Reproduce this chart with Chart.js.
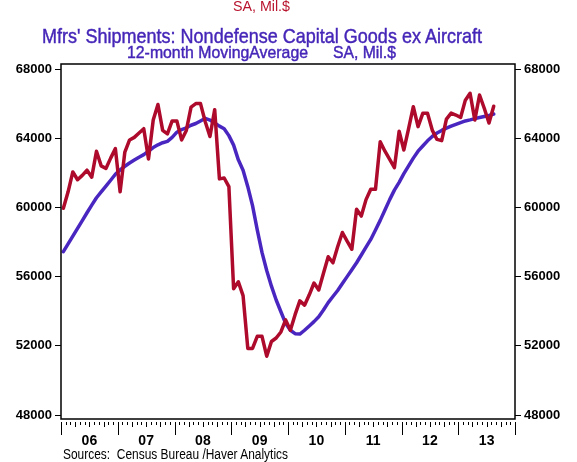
<!DOCTYPE html>
<html>
<head>
<meta charset="utf-8">
<script src="https://cdn.jsdelivr.net/npm/chart.js@4.4.0/dist/chart.umd.min.js"></script>
<style>
  html, body { margin: 0; padding: 0; background: #fff; }
  #wrap { position: relative; width: 577px; height: 462px; overflow: hidden; }
  #grafica { position: absolute; left: 0; top: 0; }
  .txt { position: absolute; white-space: pre; font-family: "Liberation Sans", Arial, sans-serif; line-height: 1; transform-origin: 0 0; }
  .gordo { -webkit-text-stroke: 0.45px currentColor; }
</style>
</head>
<body>
<div id="wrap">
  <canvas id="grafica" width="577" height="462"></canvas>
  <div class="txt" data-x="233" data-w="57" style="top:-2px;font-size:15px;color:#b8142e">SA, Mil.$</div>
  <div class="txt gordo" data-x="42" data-w="440" style="top:25px;font-size:21px;color:#4526b8">Mfrs' Shipments: Nondefense Capital Goods ex Aircraft</div>
  <div class="txt gordo" data-x="127" data-w="181" style="top:44px;font-size:17px;color:#4526b8">12-month MovingAverage</div>
  <div class="txt gordo" data-x="333" data-w="63" style="top:44px;font-size:17px;color:#4526b8">SA, Mil.$</div>
  <div class="txt" data-x="63" data-w="225" style="top:447px;font-size:14px;color:#000">Sources:  Census Bureau /Haver Analytics</div>
</div>
<script>
// Serie mensual desde enero 2006 (Mil.$)
const anioInicio = 2006;
const envios = [
  59950, 60900, 62050, 61600, 61850, 62150, 61750, 63250, 62400, 62250, 62850, 63400,
  60900, 63200, 63900, 64050, 64300, 64550, 62800, 65050, 65950, 64450, 64250, 65000,
  65000, 63900, 64450, 65800, 66000, 66000, 64950, 64100, 65650, 61650, 61700, 61200,
  55300, 55700, 54900, 51850, 51850, 52550, 52550, 51400, 52250, 52450, 52800, 53500,
  52900, 53800, 54600, 54350, 54950, 55630, 55230, 56200, 57150, 56800, 57730, 58550,
  58050, 57580, 59900, 59500, 60450, 61050, 61050, 63800, 63250, 62780, 62300, 64400,
  63320, 64550, 65820, 64670, 65440, 65440, 64470, 63930, 63860, 65100, 65450, 65340,
  65200, 66200, 66600, 65050, 66500, 65730, 64880, 65850
];
// Promedio movil 12 meses
const promedioMovil = [
  57440, 57890, 58340, 58790, 59240, 59690, 60130, 60560, 60900, 61230, 61570, 61920,
  62170, 62380, 62570, 62740, 62900, 63050, 63250, 63460, 63620, 63740, 63820, 64050,
  64350, 64500, 64600, 64750, 64850, 65000, 65150, 65050, 64880, 64700, 64550, 64150,
  63600, 62750, 62150, 61200, 60100, 58700, 57400, 56350, 55450, 54650, 53970, 53300,
  52900, 52700, 52680, 52900, 53150, 53400, 53680, 54070, 54500, 54850, 55200, 55600,
  56000, 56400, 56800, 57250, 57700, 58150, 58700, 59250, 59850, 60450, 61000, 61450,
  61950, 62400, 62850, 63250, 63550, 63850, 64100, 64300, 64450, 64580, 64700, 64800,
  64900, 65000, 65060, 65130, 65200, 65260, 65320, 65400
];
const etiquetasAnio = ['06', '07', '08', '09', '10', '11', '12', '13'];
const ticksY = [48000, 52000, 56000, 60000, 64000, 68000];

const rojo = '#ad0a2c';
const azul = '#4a26c0';

const puntos = serie => serie.map((v, i) => ({ x: anioInicio + (i + 0.5) / 12, y: v }));

// marco y marcas mensuales del eje x
const marcoPlugin = {
  id: 'marco',
  afterDraw(chart) {
    const { ctx, chartArea: a, scales } = chart;
    ctx.save();
    ctx.strokeStyle = '#000';
    ctx.lineWidth = 1.5;
    ctx.strokeRect(a.left, a.top, a.right - a.left, a.bottom - a.top);
    ctx.lineWidth = 1;
    const total = etiquetasAnio.length * 12;
    for (let m = 0; m <= total; m++) {
      const x = Math.round(scales.x.getPixelForValue(anioInicio + m / 12)) + 0.5;
      const largo = m % 12 === 0 ? 13 : (m % 3 === 0 ? 5 : 3);
      ctx.beginPath();
      ctx.moveTo(x, a.bottom + 3);
      ctx.lineTo(x, a.bottom + 3 + largo);
      ctx.stroke();
    }
    ctx.restore();
  }
};

const ejeY = (pos, ancho) => ({
  type: 'linear',
  position: pos,
  min: 47770,
  max: 68290,
  afterBuildTicks: s => { s.ticks = ticksY.map(v => ({ value: v })); },
  afterFit: s => { s.width = ancho; },
  grid: { drawOnChartArea: false, drawTicks: true, tickLength: 6, color: '#000', lineWidth: 1 },
  border: { display: false },
  ticks: {
    color: '#000',
    padding: 3,
    font: { family: 'Liberation Sans', size: 13, weight: 'bold' },
    callback: v => String(v)
  }
});

new Chart(document.getElementById('grafica').getContext('2d'), {
  type: 'line',
  data: {
    datasets: [
      {
        label: 'Envios',
        data: puntos(envios),
        borderColor: rojo,
        borderWidth: 3.5,
        pointRadius: 0,
        borderJoinStyle: 'round',
        borderCapStyle: 'round',
        yAxisID: 'y'
      },
      {
        label: 'Promedio movil 12m',
        data: puntos(promedioMovil),
        borderColor: azul,
        borderWidth: 3.5,
        pointRadius: 0,
        borderJoinStyle: 'round',
        borderCapStyle: 'round',
        yAxisID: 'y'
      }
    ]
  },
  options: {
    responsive: false,
    animation: false,
    devicePixelRatio: 1,
    layout: { padding: { top: 64, left: 0, right: 0, bottom: 0 } },
    plugins: { legend: { display: false }, tooltip: { enabled: false } },
    scales: {
      x: {
        type: 'linear',
        min: anioInicio,
        max: anioInicio + etiquetasAnio.length,
        afterBuildTicks: s => { s.ticks = etiquetasAnio.map((t, i) => ({ value: anioInicio + i + 0.5 })); },
        afterFit: s => { s.height = 43; },
        grid: { display: false, drawTicks: false },
        border: { display: false },
        ticks: {
          autoSkip: false,
          maxRotation: 0,
          padding: 14,
          color: '#000',
          font: { family: 'Liberation Sans', size: 14, weight: 'bold' },
          callback: (v, i) => etiquetasAnio[i]
        }
      },
      y: ejeY('left', 61),
      y2: ejeY('right', 62)
    }
  },
  plugins: [marcoPlugin]
});

// ajustar los textos al ancho del original
document.querySelectorAll('.txt').forEach(el => {
  const w = el.getBoundingClientRect().width;
  el.style.left = el.dataset.x + 'px';
  el.style.transform = `scaleX(${el.dataset.w / w})`;
});
</script>
</body>
</html>
